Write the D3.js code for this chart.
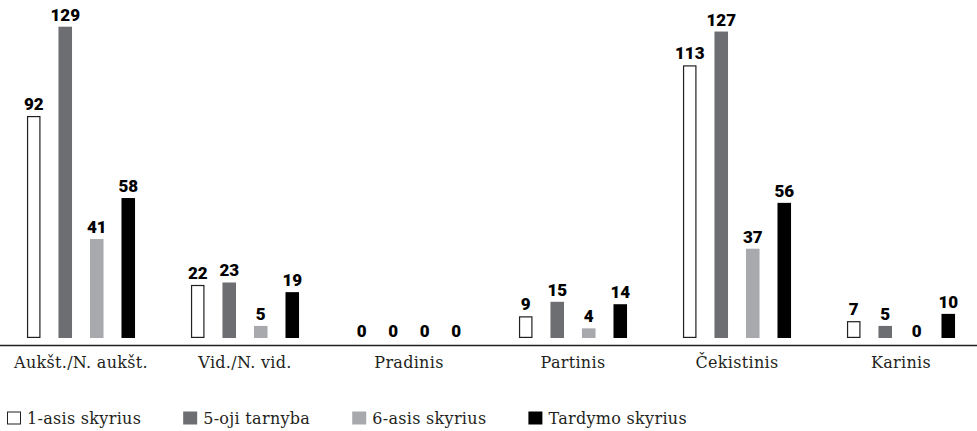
<!DOCTYPE html>
<html>
<head>
<meta charset="utf-8">
<script src="https://cdn.jsdelivr.net/npm/d3@7"></script>
<style>
  body { margin: 0; background: #fff; }
  .cat { font-family: "DejaVu Serif", "Liberation Serif", serif; font-size: 16px; letter-spacing: 0.3px; fill: #231f20; }
  .val { font-family: Roboto, "DejaVu Sans", sans-serif; font-weight: 900; font-size: 17px; fill: #000; }
  .leg { font-family: "DejaVu Serif", "Liberation Serif", serif; font-size: 16px; letter-spacing: 0.3px; fill: #231f20; }
</style>
</head>
<body>
<div id="chart"></div>
<script>
var categories = ["Aukšt./N. aukšt.", "Vid./N. vid.", "Pradinis", "Partinis", "Čekistinis", "Karinis"];
var seriesNames = ["1-asis skyrius", "5-oji tarnyba", "6-asis skyrius", "Tardymo skyrius"];
var skyrius1 = [92, 22, 0, 9, 113, 7];
var tarnyba5 = [129, 23, 0, 15, 127, 5];
var skyrius6 = [41, 5, 0, 4, 37, 0];
var tardymo = [58, 19, 0, 14, 56, 10];
var colors = ["#ffffff", "#6d6e71", "#a7a9ac", "#000000"];

var width = 977, height = 431;
var series = [skyrius1, tarnyba5, skyrius6, tardymo];

var svg = d3.select("#chart").append("svg")
  .attr("width", width)
  .attr("height", height);

/* scales */
var x0 = d3.scaleBand()
  .domain(categories)
  .range([-1, 983]);
var x1 = d3.scaleBand()
  .domain(d3.range(series.length))
  .range([10, 154])
  .paddingInner(0.57)
  .paddingOuter(0.57);
var y = d3.scaleLinear()
  .domain([0, 129])
  .range([338, 26.7]);

var rows = categories.map(function(c, i) {
  return { cat: c, vals: series.map(function(s, k) { return { k: k, v: s[i] }; }) };
});

var group = svg.selectAll(".grp")
  .data(rows)
  .enter().append("g")
  .attr("class", "grp")
  .attr("transform", function(d) { return "translate(" + x0(d.cat) + ",0)"; });

group.selectAll("rect")
  .data(function(d) { return d.vals; })
  .enter().append("rect")
  .attr("x", function(d) { return x1(d.k) + (d.k == 0 ? 0.6 : 0); })
  .attr("width", function(d) { return x1.bandwidth() - (d.k == 0 ? 1.2 : 0); })
  .attr("y", function(d) { return y(d.v) + (d.k == 0 ? 0.6 : 0); })
  .attr("height", function(d) { return Math.max(0, y(0) - y(d.v) - (d.k == 0 ? 1.2 : 0)); })
  .attr("fill", function(d) { return colors[d.k]; })
  .attr("stroke", function(d) { return d.k == 0 && d.v > 0 ? "#231f20" : "none"; })
  .attr("stroke-width", 1.2);

group.selectAll(".val")
  .data(function(d) { return d.vals; })
  .enter().append("text")
  .attr("class", "val")
  .attr("text-anchor", "middle")
  .attr("x", function(d) { return x1(d.k) + x1.bandwidth() / 2; })
  .attr("y", function(d) { return d.v > 0 ? y(d.v) - 6 : y(0) - 1.5; })
  .text(function(d) { return d.v; });

/* axis line + category labels */
svg.append("line")
  .attr("x1", 0).attr("x2", width)
  .attr("y1", 345.5).attr("y2", 345.5)
  .attr("stroke", "#231f20")
  .attr("stroke-width", 1.5);

svg.selectAll(".cat")
  .data(categories)
  .enter().append("text")
  .attr("class", "cat")
  .attr("text-anchor", "middle")
  .attr("x", function(d) { return x0(d) + x0.bandwidth() / 2; })
  .attr("y", 368)
  .text(function(d) { return d; });

/* legend */
var lx = 7;
seriesNames.forEach(function(name, k) {
  svg.append("rect")
    .attr("x", lx + (k == 0 ? 0.5 : 0))
    .attr("y", 411.5 + (k == 0 ? 0.5 : 0))
    .attr("width", k == 0 ? 13 : 14)
    .attr("height", k == 0 ? 12 : 13)
    .attr("fill", colors[k])
    .attr("stroke", k == 0 ? "#231f20" : "none");
  var t = svg.append("text")
    .attr("class", "leg")
    .attr("x", lx + 20)
    .attr("y", 424)
    .text(name);
  lx = lx + 20 + t.node().getComputedTextLength() + 42;
});
</script>
</body>
</html>
